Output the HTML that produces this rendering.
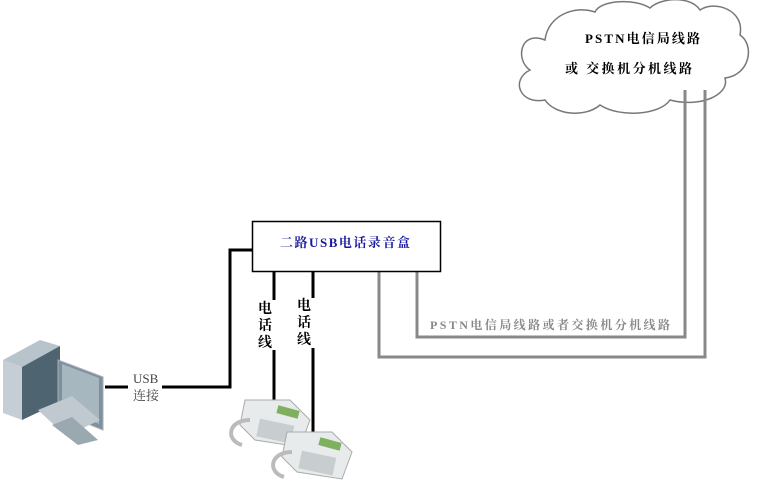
<!DOCTYPE html>
<html><head><meta charset="utf-8"><style>
html,body{margin:0;padding:0;background:#fff;}
svg text{font-family:"Liberation Serif","Noto Serif CJK SC","Noto Sans CJK SC",serif;}
</style></head><body>
<svg width="758" height="493" viewBox="0 0 758 493" xmlns="http://www.w3.org/2000/svg">
<path d="M545,40 C520,30 515,60 530,70 C510,80 520,105 545,100 C555,115 585,118 600,105 C620,118 660,115 670,100 C700,108 730,95 725,78 C750,75 755,45 740,35 C745,10 715,0 700,10 C690,-5 660,-2 650,8 C635,-2 600,0 595,12 C575,5 548,15 545,40 Z" fill="#fff" stroke="#777" stroke-width="1.5"/>
<text x="585" y="43" font-size="13" font-weight="bold" textLength="115" lengthAdjust="spacing">PSTN电信局线路</text>
<text x="565" y="73" font-size="13" font-weight="bold" textLength="127" lengthAdjust="spacing">或 交换机分机线路</text>
<polyline points="379,271 379,357 705,357 705,90" fill="none" stroke="#888" stroke-width="3"/>
<polyline points="417,271 417,337 685,337 685,90" fill="none" stroke="#888" stroke-width="3"/>
<text x="430" y="329" font-size="12" font-weight="bold" fill="#888" textLength="240" lengthAdjust="spacing">PSTN电信局线路或者交换机分机线路</text>
<rect x="252.5" y="221.5" width="188" height="50" fill="#fff" stroke="#000" stroke-width="1.5"/>
<text x="280" y="247" font-size="13" font-weight="bold" fill="#1a1aa0" textLength="130" lengthAdjust="spacing">二路USB电话录音盒</text>
<polyline points="252,250 230,250 230,387 105,387" fill="none" stroke="#000" stroke-width="3"/>
<line x1="274" y1="271" x2="274" y2="402" stroke="#000" stroke-width="3"/>
<line x1="313" y1="271" x2="313" y2="432" stroke="#000" stroke-width="3"/>
<rect x="262" y="300" width="20" height="50" fill="#fff"/>
<rect x="298" y="298" width="20" height="50" fill="#fff"/>
<text font-size="14" font-weight="bold"><tspan x="258" y="313">电</tspan><tspan x="258" y="330">话</tspan><tspan x="258" y="347">线</tspan></text>
<text font-size="14" font-weight="bold"><tspan x="297" y="310">电</tspan><tspan x="297" y="327">话</tspan><tspan x="297" y="344">线</tspan></text>
<rect x="128" y="370" width="34" height="36" fill="#fff"/>
<text x="133" y="383" font-size="13" fill="#444">USB</text>
<text x="133" y="400" font-size="13" fill="#444" font-family="Liberation Sans,Noto Sans CJK SC,sans-serif">连接</text>
<polygon points="3,360 40,340 60,346 22,367" fill="#b8c4cc"/>
<polygon points="3,360 22,367 22,420 3,413" fill="#c5ced4"/>
<polygon points="22,367 60,346 60,402 22,420" fill="#4e6470"/>
<polygon points="58,360 103,377 103,430 58,412" fill="#7d919c" stroke="#aab" />
<polygon points="62,364 99,378 99,424 62,409" fill="#a7b7c0"/>
<polygon points="38,410 72,396 100,420 66,436" fill="#c0c9cf"/>
<polygon points="52,425 72,417 98,440 78,445" fill="#9aa8b0"/>
<g id="ph">
<path d="M245,400 L290,400 L310,420 L300,447 L255,440 L240,425 Z" fill="#e8ebec" stroke="#aaa"/>
<rect x="277" y="408" width="22" height="8" fill="#7fb060" transform="rotate(15 288 412)"/>
<path d="M250,420 C228,420 225,440 242,445" fill="none" stroke="#bbb" stroke-width="4"/>
<rect x="258" y="422" width="35" height="18" fill="#c8cdd0" transform="rotate(12 275 430)"/>
</g>
<use href="#ph" x="42" y="32"/>
</svg>
</body></html>
